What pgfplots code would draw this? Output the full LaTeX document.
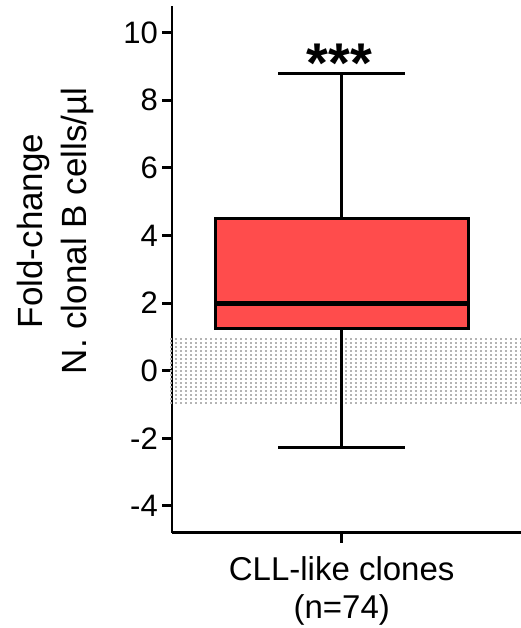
\documentclass[border=0pt]{standalone}
\usepackage{pgfplots}
\pgfplotsset{compat=1.18}
\usepgfplotslibrary{statistics}
\usetikzlibrary{patterns}
\usepackage{fontspec}
\setmainfont{Liberation Sans}
\definecolor{boxred}{RGB}{255,76,76}
\definecolor{dotgrey}{RGB}{180,180,180}
\pgfdeclarepatternformonly{greydots}{\pgfqpoint{0pt}{0pt}}{\pgfqpoint{5pt}{4pt}}{\pgfqpoint{5pt}{4pt}}{%
  \pgfpathrectangle{\pgfqpoint{0pt}{0pt}}{\pgfqpoint{2.2pt}{2.2pt}}\pgfusepath{fill}}
\begin{document}
\begin{tikzpicture}
\useasboundingbox (0,0) rectangle (521pt,628pt);
\begin{axis}[
  at={(172pt,95.3pt)}, anchor=south west,
  scale only axis,
  width=349pt, height=526.7pt,
  xmin=-0.671, xmax=0.709,
  ymin=-4.79, ymax=10.78,
  enlargelimits=false,
  clip=false,
  axis lines=left,
  axis line style={-, line width=2.5pt, black},
  tick align=outside,
  major tick length=10pt,
  tick style={line width=3pt, black},
  ytick={-4,-2,0,2,4,6,8,10},
  xtick={0},
  xticklabels={{CLL-like clones\\(n=74)}},
  /pgf/number format/assume math mode=true,
  yticklabel style={font=\fontsize{31}{36}\selectfont, inner sep=0pt, xshift=-4pt},
  xticklabel style={font=\fontsize{33}{38}\selectfont, align=center, inner sep=0pt, yshift=-14pt},
  ylabel={Fold-change\\N. clonal B cells/µl},
  ylabel style={font=\fontsize{35}{44}\selectfont, align=center, inner sep=0pt,
    at={(axis description cs:-0.2235,0.573)}, anchor=south, rotate=0},
]
\addplot[draw=none, pattern=greydots, pattern color=dotgrey, forget plot]
  coordinates {(-0.687,-1) (0.709,-1) (0.709,1) (-0.687,1)} -- cycle;
\addplot[
  boxplot/draw direction=y,
  boxplot prepared={
    lower whisker=-2.28,
    lower quartile=1.26,
    median=1.98,
    upper quartile=4.51,
    upper whisker=8.77,
    draw position=0,
    box extend=1,
    whisker extend=0.5,
    every median/.style={line width=5.5pt},
  },
  draw=black, fill=boxred, line width=3pt, solid,
] coordinates {};
\node[font=\bfseries\fontsize{56}{56}\selectfont, anchor=base, inner sep=0pt]
  at (axis cs:-0.009,8.52) {***};
\end{axis}
\end{tikzpicture}
\end{document}
